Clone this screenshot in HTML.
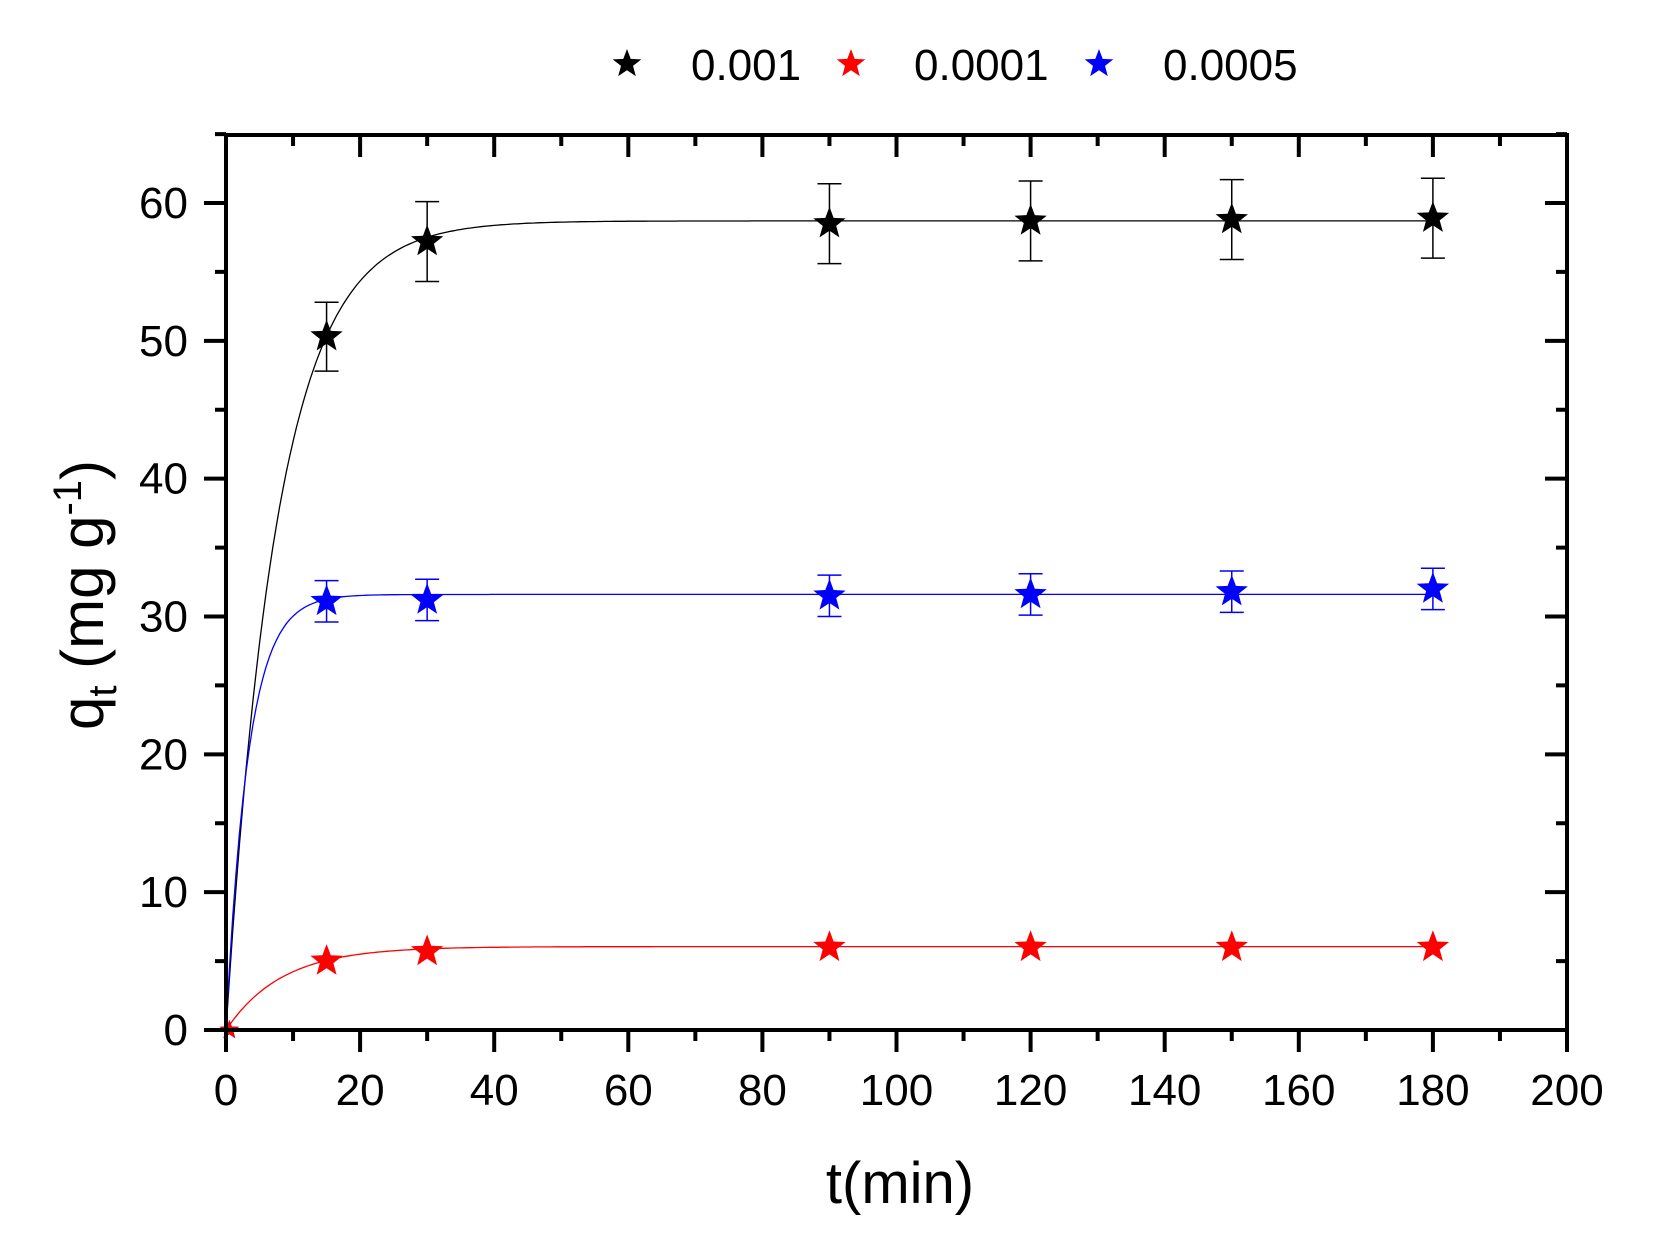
<!DOCTYPE html>
<html><head><meta charset="utf-8"><style>
html,body{margin:0;padding:0;background:#fff;}
svg text{font-family:"Liberation Sans",Arial,sans-serif;}
</style></head><body>
<svg id="s" width="1659" height="1251" xmlns="http://www.w3.org/2000/svg"></svg>
<script>
const s=document.getElementById('s');
const X0=226,X1=1567,Y0=1030,Y60=203;
const sx=t=>X0+t*(X1-X0)/200, sy=v=>Y0-v*(Y0-Y60)/60;
let h='';
function star(cx,cy,r,c){let p=[];for(let i=0;i<10;i++){const a=-Math.PI/2+i*Math.PI/5;const rr=i%2?r*0.42:r;p.push((cx+rr*Math.cos(a)).toFixed(1)+','+(cy+rr*Math.sin(a)).toFixed(1));}return `<polygon points="${p.join(' ')}" fill="${c}"/>`;}
const series=[
 {c:'#000',qe:58.7,k:0.13,pts:[[15,50.3],[30,57.2],[90,58.5],[120,58.7],[150,58.8],[180,58.9]],e:[2.5,2.9,2.9,2.9,2.9,2.9]},
 {c:'#00f',qe:31.6,k:0.30,pts:[[15,31.1],[30,31.2],[90,31.5],[120,31.6],[150,31.8],[180,32.0]],e:[1.5,1.5,1.5,1.5,1.5,1.5]},
 {c:'#f00',qe:6.05,k:0.12,pts:[[15,5.0],[30,5.7],[90,6.0],[120,6.0],[150,6.0],[180,6.0]],e:[0.2,0.2,0.2,0.2,0.2,0.2]}
];
for(const S of series){let d='';for(let t=0;t<=180;t+=0.5){const v=S.qe*(1-Math.exp(-S.k*t));d+=(t?'L':'M')+sx(t).toFixed(1)+','+sy(v).toFixed(1);}h+=`<path d="${d}" fill="none" stroke="${S.c}" stroke-width="1.3"/>`;}
for(const S of series){S.pts.forEach((p,i)=>{const x=sx(p[0]),y=sy(p[1]),e=S.e[i]*13.78;if(S.e[i]>0.5){h+=`<path d="M${x},${y-e}V${y+e}M${x-12},${y-e}H${x+12}M${x-12},${y+e}H${x+12}" stroke="${S.c}" stroke-width="1.5" fill="none"/>`;}h+=star(x,y,17,S.c);});h+=star(sx(0.5),sy(0),10,S.c);}
h+=`<rect x="${X0}" y="135" width="${X1-X0}" height="${Y0-135}" fill="none" stroke="#000" stroke-width="4"/>`;
for(let t=0;t<=200;t+=10){const x=sx(t),maj=t%20==0;h+=`<path d="M${x},${Y0}V${Y0+(maj?22:11)}M${x},135V${135+(maj?22:11)}" stroke="#000" stroke-width="4"/>`;if(maj)h+=`<text x="${x}" y="1105" font-size="44" text-anchor="middle">${t}</text>`;}
for(let v=0;v<=65;v+=5){const y=sy(v),maj=v%10==0;h+=`<path d="M${X0},${y}H${X0-(maj?22:11)}M${X1},${y}H${X1-(maj?22:11)}" stroke="#000" stroke-width="4"/>`;if(maj)h+=`<text x="188" y="${y+15}" font-size="44" text-anchor="end">${v}</text>`;}
h+=`<text x="900" y="1203" font-size="58" text-anchor="middle">t(min)</text>`;
h+=`<text transform="translate(103,595) rotate(-90)" font-size="60" text-anchor="middle">q<tspan font-size="40" dy="13">t</tspan><tspan dy="-13"> (mg g</tspan><tspan font-size="40" dy="-22">-1</tspan><tspan dy="22">)</tspan></text>`;
h+=star(627,64,15,'#000')+star(851,64,15,'#f00')+star(1099,64,15,'#00f');
h+=`<text x="691" y="80" font-size="44">0.001</text><text x="914" y="80" font-size="44">0.0001</text><text x="1163" y="80" font-size="44">0.0005</text>`;
s.innerHTML=h;
</script>
</body></html>
